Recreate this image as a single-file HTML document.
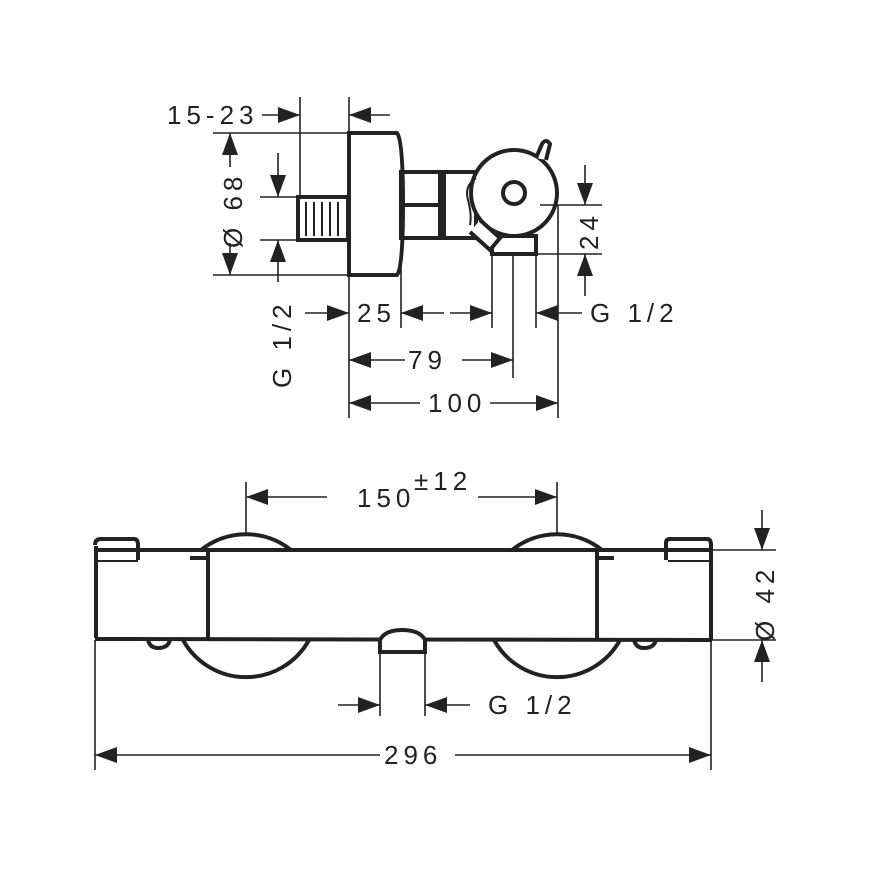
<!DOCTYPE html>
<html><head><meta charset="utf-8"><style>
html,body{margin:0;padding:0;background:#fff}
svg{display:block}
text{font-family:"Liberation Sans",sans-serif;font-size:26px;fill:#222;letter-spacing:5px}
</style></head><body>
<svg width="870" height="870" viewBox="0 0 870 870" xmlns="http://www.w3.org/2000/svg">
<defs>
<marker id="a" viewBox="0 0 22 16" refX="22" refY="8" markerWidth="22" markerHeight="16" markerUnits="userSpaceOnUse" orient="auto">
<path d="M0,0 L22,8 L0,16 Z" fill="#222"/></marker>
</defs>
<g stroke="#222" fill="none">
<!-- TOP VIEW -->
<g stroke-width="4">
<path d="M349,133 H397 Q403,140 403,204 Q403,268 397,275 H349 Z"/>
<rect x="298" y="197" width="50" height="43"/>
<rect x="401" y="172" width="39" height="66"/>
<line x1="401" y1="205" x2="440" y2="205"/>
<rect x="444" y="172" width="32" height="66"/>
<rect x="492" y="236" width="44" height="18"/>
<circle cx="514" cy="193" r="43" fill="#fff"/>
<circle cx="514" cy="193" r="11"/>
<path d="M536,158 L542,144 Q546,138 550,144 L546,160" fill="#fff"/>
<path d="M480,220 L500,238 L490,250 L470,232" fill="#fff"/>
</g>
<g stroke-width="2">
<line x1="306" y1="202" x2="306" y2="236"/><line x1="314" y1="202" x2="314" y2="236"/><line x1="322" y1="202" x2="322" y2="236"/><line x1="330" y1="202" x2="330" y2="236"/><line x1="338" y1="202" x2="338" y2="236"/>
<path d="M476,178 Q464,186 468,200 Q472,215 470,225"/>
</g>
<g stroke-width="1.6">
<line x1="300" y1="97" x2="300" y2="197"/>
<line x1="349" y1="97" x2="349" y2="133"/>
<line x1="213" y1="133" x2="349" y2="133"/>
<line x1="213" y1="275" x2="349" y2="275"/>
<line x1="260" y1="197" x2="298" y2="197"/>
<line x1="260" y1="240" x2="298" y2="240"/>
<line x1="349" y1="275" x2="349" y2="418"/>
<line x1="401" y1="255" x2="401" y2="328"/>
<line x1="492" y1="254" x2="492" y2="328"/>
<line x1="536" y1="254" x2="536" y2="328"/>
<line x1="513" y1="254" x2="513" y2="378"/>
<line x1="558" y1="205" x2="558" y2="418"/>
<line x1="540" y1="205" x2="602" y2="205"/>
<line x1="536" y1="254" x2="602" y2="254"/>
<line x1="262" y1="115" x2="300" y2="115" marker-end="url(#a)"/>
<line x1="390" y1="115" x2="349" y2="115" marker-end="url(#a)"/>
<line x1="230" y1="167" x2="230" y2="133" marker-end="url(#a)"/>
<line x1="230" y1="243" x2="230" y2="275" marker-end="url(#a)"/>
<line x1="278" y1="153" x2="278" y2="197" marker-end="url(#a)"/>
<line x1="278" y1="282" x2="278" y2="240" marker-end="url(#a)"/>
<line x1="305" y1="313" x2="349" y2="313" marker-end="url(#a)"/>
<line x1="444" y1="313" x2="401" y2="313" marker-end="url(#a)"/>
<line x1="450" y1="313" x2="492" y2="313" marker-end="url(#a)"/>
<line x1="582" y1="313" x2="536" y2="313" marker-end="url(#a)"/>
<line x1="585" y1="165" x2="585" y2="205" marker-end="url(#a)"/>
<line x1="585" y1="296" x2="585" y2="254" marker-end="url(#a)"/>
<line x1="405" y1="360" x2="349" y2="360" marker-end="url(#a)"/>
<line x1="462" y1="360" x2="513" y2="360" marker-end="url(#a)"/>
<line x1="420" y1="403" x2="349" y2="403" marker-end="url(#a)"/>
<line x1="490" y1="403" x2="558" y2="403" marker-end="url(#a)"/>
</g>

<!-- BOTTOM VIEW -->
<g stroke-width="4">
<path d="M201,550 A72,72 0 0 1 291,550"/>
<path d="M512,550 A72,72 0 0 1 602,550"/>
<path d="M183,640 A72,72 0 0 0 309,640"/>
<path d="M494,640 A72,72 0 0 0 620,640"/>
<path d="M95,545 Q95,539 101,539 H134 Q138,539 138,545 V560"/>
<line x1="97" y1="550" x2="138" y2="550"/>
<line x1="138" y1="550" x2="666" y2="550"/>
<line x1="96" y1="546" x2="96" y2="638"/>
<line x1="95" y1="639" x2="712" y2="640"/>
<line x1="208" y1="552" x2="208" y2="638"/>
<line x1="597" y1="552" x2="597" y2="638"/>
<line x1="190" y1="558" x2="208" y2="558"/>
<line x1="597" y1="558" x2="614" y2="558"/>
<path d="M666,560 V543 Q666,539 670,539 H707 Q711,539 711,545 V640"/>
<line x1="666" y1="550" x2="711" y2="550"/>
<path d="M380,640 V652 H425 V640 Q420,630 402,630 Q385,630 380,640 Z" fill="#fff"/>
<path d="M148,640 Q150,648 158,648 Q168,648 170,640"/>
<path d="M634,640 Q636,648 644,648 Q654,648 656,640"/>
</g>
<g stroke-width="2"><line x1="98" y1="561" x2="138" y2="561"/><line x1="668" y1="561" x2="710" y2="561"/></g>
<g stroke-width="1.6">
<line x1="246" y1="482" x2="246" y2="535"/>
<line x1="557" y1="482" x2="557" y2="535"/>
<line x1="327" y1="497" x2="246" y2="497" marker-end="url(#a)"/>
<line x1="478" y1="497" x2="557" y2="497" marker-end="url(#a)"/>
<line x1="711" y1="550" x2="776" y2="550"/>
<line x1="711" y1="640" x2="776" y2="640"/>
<line x1="762" y1="510" x2="762" y2="550" marker-end="url(#a)"/>
<line x1="762" y1="682" x2="762" y2="640" marker-end="url(#a)"/>
<line x1="380" y1="652" x2="380" y2="716"/>
<line x1="425" y1="652" x2="425" y2="716"/>
<line x1="338" y1="705" x2="380" y2="705" marker-end="url(#a)"/>
<line x1="470" y1="705" x2="425" y2="705" marker-end="url(#a)"/>
<line x1="95" y1="640" x2="95" y2="770"/>
<line x1="711" y1="640" x2="711" y2="770"/>
<line x1="380" y1="755" x2="95" y2="755" marker-end="url(#a)"/>
<line x1="455" y1="755" x2="711" y2="755" marker-end="url(#a)"/>
</g>
</g>
<g>
<text x="167" y="124">15-23</text>
<text transform="translate(242,248) rotate(-90)">Ø 68</text>
<text transform="translate(291,388) rotate(-90)">G 1/2</text>
<text x="357" y="322">25</text>
<text x="590" y="322">G 1/2</text>
<text transform="translate(598,250) rotate(-90)">24</text>
<text x="408" y="369">79</text>
<text x="428" y="412">100</text>
<text x="357" y="507">150</text>
<text x="414" y="490">±12</text>
<text transform="translate(774,641) rotate(-90)">Ø 42</text>
<text x="488" y="714">G 1/2</text>
<text x="384" y="764">296</text>
</g>
</svg>
</body></html>
